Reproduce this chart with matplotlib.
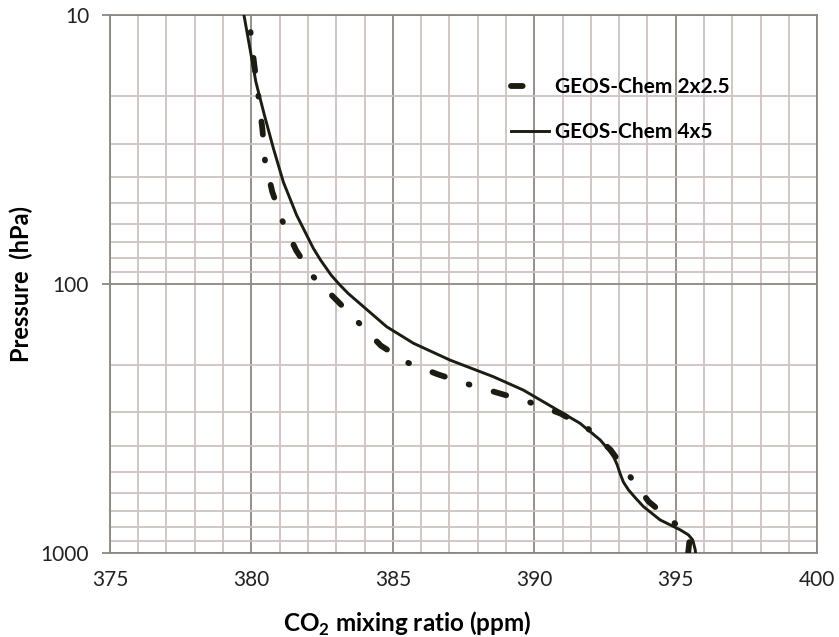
import matplotlib
matplotlib.use('Agg')
import matplotlib.pyplot as plt
from matplotlib.lines import Line2D
from matplotlib.ticker import FixedLocator, LogLocator, NullFormatter, FixedFormatter

plt.rcParams['font.family'] = ['Lato', 'DejaVu Sans']
plt.rcParams['mathtext.fontset'] = 'custom'
plt.rcParams['mathtext.rm'] = 'Lato'
plt.rcParams['mathtext.bf'] = 'Lato:bold'

# GEOS-Chem 4x5 (solid) - pressure (hPa) / CO2 (ppm)
p_4x5 = [10, 13.3, 17.7, 23.5, 31.3, 41.7, 55.4, 73.6, 81.5, 92.6, 100, 108.3,
         144, 166, 191.7, 221, 247.8, 285.8, 329.6, 380, 410, 438.5, 470, 505.7,
         545, 583, 625, 672.8, 754, 820.9, 857, 895, 974, 1000]
co2_4x5 = [379.74, 379.95, 380.16, 380.46, 380.78, 381.13, 381.6, 382.19, 382.45,
           382.82, 383.1, 383.42, 384.78, 385.73, 387.02, 388.55, 389.61, 390.62,
           391.62, 392.33, 392.6, 392.8, 392.93, 393.03, 393.15, 393.33, 393.58,
           393.86, 394.45, 395.16, 395.45, 395.6, 395.69, 395.7]

# GEOS-Chem 2x2.5 (dash-dot)
p_2x25 = [10, 11.5, 15.2, 20.0, 26.5, 34.6, 45.4, 58.3, 74.8, 93.9, 114.7, 138.8,
          169.5, 196.1, 216.6, 235.9, 254.9, 275.4, 302.5, 344.2, 414, 517, 644,
          765, 871, 1000]
co2_2x25 = [379.9, 379.97, 380.1, 380.25, 380.39, 380.48, 380.74, 381.1, 381.58,
            382.19, 383.01, 383.78, 384.58, 385.53, 386.59, 387.67, 388.77, 389.85,
            390.91, 391.89, 392.7, 393.37, 394.04, 394.9, 395.5, 395.44]

labels = ['GEOS-Chem 2x2.5', 'GEOS-Chem 4x5']
x_ticks = [375, 380, 385, 390, 395, 400]
y_ticks = [10, 100, 1000]

line_color = '#1c1c12'
minor_c = '#cdc3bf'
major_c = '#8c8782'

fig, ax = plt.subplots(figsize=(8.39, 6.37), dpi=100)
fig.subplots_adjust(left=0.131, right=0.974, top=0.976, bottom=0.132)

dash_style = (3.65, (2.25, 4.3, 0.15, 4.3))
ax.plot(co2_2x25, p_2x25, color=line_color, lw=4.2, linestyle=dash_style,
        dash_capstyle='round', zorder=3)
ax.plot(co2_4x5, p_4x5, color=line_color, lw=2.1, zorder=4)

ax.set_yscale('log')
ax.set_ylim(1000, 10)
ax.set_xlim(375, 400)

ax.xaxis.set_major_locator(FixedLocator(x_ticks))
ax.xaxis.set_minor_locator(FixedLocator(range(375, 401)))
ax.yaxis.set_major_locator(FixedLocator(y_ticks))
ax.yaxis.set_major_formatter(FixedFormatter([str(v) for v in y_ticks]))
ax.yaxis.set_minor_locator(LogLocator(base=10, subs=range(2, 10)))
ax.yaxis.set_minor_formatter(NullFormatter())

ax.grid(which='minor', color=minor_c, lw=1.3)
ax.grid(which='major', color=major_c, lw=1.3)
ax.set_axisbelow(True)

for s in ax.spines.values():
    s.set_color(major_c)
    s.set_linewidth(1.3)

ax.tick_params(axis='x', which='both', length=0, pad=12, labelsize=15, labelcolor='#222222')
ax.tick_params(axis='y', which='major', length=6, width=1.3, color=major_c,
               pad=9, labelsize=15, labelcolor='#222222')
ax.tick_params(axis='y', which='minor', length=0)

ax.set_xlabel(r'CO$_\mathbf{2}$ mixing ratio (ppm)', fontsize=17.5, fontweight='bold')
ax.xaxis.set_label_coords(0.42, -0.105)
ax.set_ylabel('Pressure  (hPa)', fontsize=17, fontweight='bold')
ax.yaxis.set_label_coords(-0.108, 0.5)

handles = [Line2D([], [], color=line_color, lw=4.2, linestyle=(0, (2.0, 20)),
                  dash_capstyle='round'),
           Line2D([], [], color=line_color, lw=2.1)]
ax.legend(handles, labels, loc='upper left', bbox_to_anchor=(0.567, 0.885),
          frameon=False, prop={'weight': 'bold', 'size': 15},
          handlelength=1.85, handletextpad=0.25, labelspacing=1.2, borderpad=0,
          borderaxespad=0)

fig.savefig('out.png', dpi=100)
